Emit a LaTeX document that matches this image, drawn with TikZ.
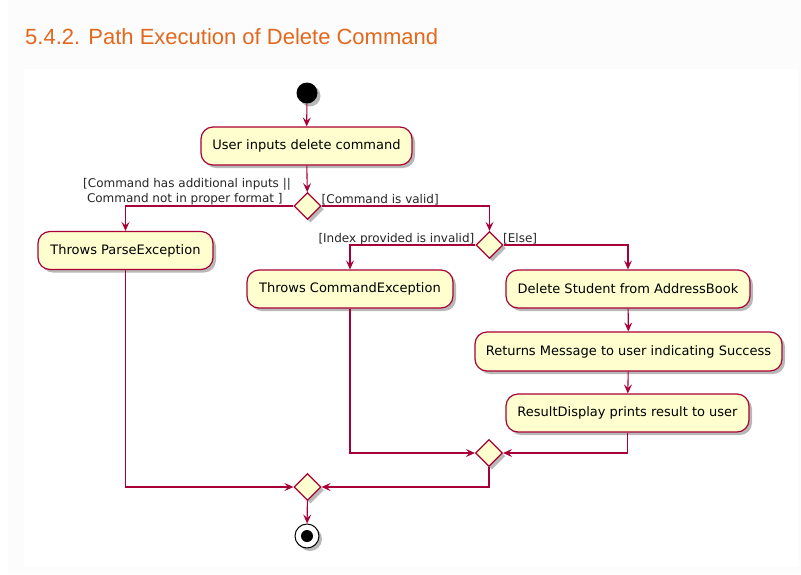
\documentclass[tikz,border=0pt]{standalone}
\usepackage{fontspec}
\setmainfont{DejaVu Sans}
\newfontfamily\titlefont{Liberation Sans}
\usetikzlibrary{shapes.geometric,arrows.meta,shadows}
\definecolor{umlred}{HTML}{A80036}
\definecolor{umlfill}{HTML}{FEFECE}
\definecolor{titleorange}{RGB}{226,104,30}
\definecolor{pagegray}{HTML}{FCFCFC}
\tikzset{
  shad/.style={drop shadow={shadow xshift=3pt,shadow yshift=-3pt,opacity=0.28,fill=black}},
  actbox/.style={draw=umlred,fill=umlfill,line width=1.2pt,rounded corners=12pt,
    inner sep=0pt,minimum height=38pt,font=\fontsize{13}{15}\selectfont,shad},
  decision/.style={draw=umlred,fill=umlfill,line width=1.2pt,shape=diamond,
    minimum width=27pt,minimum height=27pt,inner sep=0pt,shad},
  arr/.style={draw=umlred,line width=1.1pt,-{Stealth[length=9pt,width=8pt,inset=3.5pt]}},
  guard/.style={font=\fontsize{12}{14.5}\selectfont,inner sep=0pt,text=black!85},
}
\begin{document}
\begin{tikzpicture}[x=1pt,y=-1pt]
\useasboundingbox (0,0) rectangle (801,574);
\fill[pagegray] (0,0) rectangle (801,574);
\fill[white] (0,0) rectangle (8,574);
\fill[white] (24,69) rectangle (798,567);

\node[anchor=base west,inner sep=0pt,text=titleorange,font=\titlefont\fontsize{22}{25}\selectfont] (title) at (25,44) {5.4.2. Path Execution of Delete Command};

% start
\node[circle,fill=black,minimum size=21pt,inner sep=0pt,shad] (start) at (307,93) {};
\node[actbox,minimum width=211pt] (b1) at (306.5,146) {User inputs delete command};
\node[decision] (d1) at (307.5,206) {};
\node[actbox,minimum width=175pt] (parse) at (125.5,250.5) {Throws ParseException};
\node[decision] (d2) at (489.5,245) {};
\node[actbox,minimum width=206pt] (cmdex) at (350,289) {Throws CommandException};
\node[actbox,minimum width=244pt] (del) at (628,289) {Delete Student from AddressBook};
\node[actbox,minimum width=307pt,minimum height=39pt] (ret) at (628.5,351.5) {Returns Message to user indicating Success};
\node[actbox,minimum width=243pt] (res) at (627.5,413) {ResultDisplay prints result to user};
\node[decision] (d3) at (489,453) {};
\node[decision] (d4) at (307.5,487) {};
\node[circle,draw=black,line width=1pt,fill=white,minimum size=24pt,inner sep=0pt,shad] (stop) at (307,536) {};
\node[circle,fill=black,minimum size=12pt,inner sep=0pt] (stopdot) at (stop.center) {};

% guards
\node[guard,align=left,anchor=north west] (g1) at (83,178.5) {[Command has additional inputs ||\\\ Command not in proper format ]};
\node[guard,anchor=west] (g2) at (321.5,200) {[Command is valid]};
\node[guard,anchor=east] (g3) at (474.5,239) {[Index provided is invalid]};
\node[guard,anchor=west] (g4) at (503,239) {[Else]};

% connectors
\draw[arr] (start) -- (b1);
\draw[arr] (b1) -- (d1);
\draw[arr] (d1.west) -| (parse.north);
\draw[arr] (d1.east) -| (d2.north);
\draw[arr] (d2.west) -| (cmdex.north);
\draw[arr] (d2.east) -| (del.north);
\draw[arr] (del) -- (ret);
\draw[arr] (ret) -- (res);
\draw[arr] (cmdex.south) |- (d3.west);
\draw[arr] (res.south) |- (d3.east);
\draw[arr] (parse.south) |- (d4.west);
\draw[arr] (d3.south) |- (d4.east);
\draw[arr] (d4) -- (stop);
\end{tikzpicture}
\end{document}
